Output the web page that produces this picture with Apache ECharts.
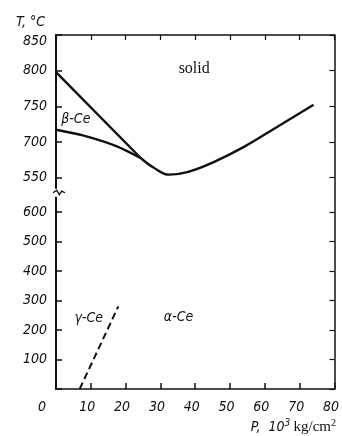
<!DOCTYPE html>
<html><head><meta charset="utf-8">
<script src="https://cdn.jsdelivr.net/npm/echarts@6/dist/echarts.min.js"></script>
<style>html,body{margin:0;padding:0;background:#fff}#c{width:342px;height:436px}</style>
</head><body><div id="c"></div>
<script>
// ---- data ----
const pressureTicks = [0, 10, 20, 30, 40, 50, 60, 70, 80];
const tempTicks = [0, 100, 200, 300, 400, 500, 600, 650, 700, 750, 800, 850];
const tempTickLabels = ['', '100', '200', '300', '400', '500', '600', '550', '700', '750', '800', '850'];
// [P (10^3 kg/cm^2), T (°C)]
const meltingCurve = [[24.4, 677], [28, 664], [32.5, 654], [38, 658], [45, 671], [54, 693], [63.5, 721], [74, 752]];
const betaMeltingLine = [[0, 798], [24.4, 677]];
const betaAlphaCurve = [[0, 717], [7.7, 709], [17.3, 694], [24.4, 677]];
const gammaAlphaLine = [[6.8, 0], [17.9, 280]];
const regionLabels = ['solid', 'β-Ce', 'γ-Ce', 'α-Ce'];
const regionLabelPos = [[39.7, 802], [5.7, 732], [9.4, 241], [35.2, 244]];

// broken temperature axis: two linear segments
function tv(T) { return T <= 600 ? T * 0.295 : 211.5 + (T - 650) * 0.7125; }
const tickV = tempTicks.map(tv);
const labelFor = {};
tickV.forEach((v, i) => { labelFor[v.toFixed(3)] = tempTickLabels[i]; });
const conv = arr => arr.map(p => [p[0], tv(p[1])]);

const chart = echarts.init(document.getElementById('c'), null, {renderer: 'canvas'});
const ink = '#111';
const tickFont = {fontFamily: 'DejaVu Sans Condensed', fontStyle: 'italic', fontSize: 14, color: ink};
const lineS = (data, smooth, extra) => Object.assign({
  type: 'line', data: conv(data), showSymbol: false, smooth: smooth, silent: true,
  lineStyle: {color: ink, width: 2.4}, z: 3
}, extra || {});

chart.setOption({
  animation: false,
  backgroundColor: '#fff',
  grid: {left: 56, right: 4, top: 35, bottom: 47},
  xAxis: [{
    type: 'value', position: 'bottom', min: 0, max: 80, interval: 10,
    axisLine: {onZero: false, lineStyle: {color: ink, width: 1.5}},
    axisTick: {inside: true, length: 6, lineStyle: {color: ink, width: 1.5}},
    splitLine: {show: false},
    axisLabel: Object.assign({}, tickFont, {
      margin: 11,
      formatter: v => v === 0 ? '{z|0}' : '{n|' + v + '}',
      rich: {z: Object.assign({}, tickFont, {padding: [0, 28, 0, 0]}), n: Object.assign({}, tickFont, {padding: [0, 7, 0, 0]})}
    })
  }, {
    type: 'value', position: 'top', min: 0, max: 80, interval: 10,
    axisLine: {onZero: false, lineStyle: {color: ink, width: 1.5}},
    axisTick: {inside: true, length: 5, lineStyle: {color: ink, width: 1.2}},
    axisLabel: {show: false}, splitLine: {show: false}
  }],
  yAxis: [{
    type: 'value', position: 'left', min: 0, max: tv(850),
    axisLine: {onZero: false, lineStyle: {color: ink, width: 2}},
    axisTick: {inside: true, length: 6, customValues: tickV, lineStyle: {color: ink, width: 1.5}},
    splitLine: {show: false},
    axisLabel: Object.assign({}, tickFont, {
      margin: 9, customValues: tickV,
      formatter: v => { const s = labelFor[v.toFixed(3)] || ''; return s === '850' ? '{t|850}' : s; },
      rich: {t: Object.assign({}, tickFont, {padding: [12, 0, 0, 0]})}
    })
  }, {
    type: 'value', position: 'right', min: 0, max: tv(850),
    axisLine: {onZero: false, lineStyle: {color: ink, width: 1.5}},
    axisTick: {inside: true, length: 5, customValues: tickV, lineStyle: {color: ink, width: 1.2}},
    axisLabel: {show: false}, splitLine: {show: false}
  }],
  series: [
    lineS(meltingCurve, 0.4),
    lineS(betaMeltingLine, false),
    lineS(betaAlphaCurve, 0.3),
    lineS(gammaAlphaLine, false, {lineStyle: {color: ink, width: 2, type: [7, 4]}})
  ]
});

// annotations and axis break, positioned through the chart's own scales
const graphics = [];
const fonts = [
  {fontFamily: 'Liberation Serif', fontSize: 16, fontWeight: 'normal', fontStyle: 'normal'},
  {fontFamily: 'DejaVu Sans Condensed', fontSize: 14, fontStyle: 'italic'},
  {fontFamily: 'DejaVu Sans Condensed', fontSize: 14, fontStyle: 'italic'},
  {fontFamily: 'DejaVu Sans Condensed', fontSize: 14, fontStyle: 'italic'}
];
regionLabels.forEach((t, i) => {
  const p = chart.convertToPixel({xAxisIndex: 0, yAxisIndex: 0}, [regionLabelPos[i][0], tv(regionLabelPos[i][1])]);
  graphics.push({type: 'text', x: p[0], y: p[1], z: 10,
    style: Object.assign({text: t, fill: ink, align: 'center', verticalAlign: 'middle'}, fonts[i])});
});
const bx = chart.convertToPixel({xAxisIndex: 0}, 0);
const by = chart.convertToPixel({yAxisIndex: 0}, (tv(600) + tv(650)) / 2) - 2;
graphics.push({type: 'rect', shape: {x: bx - 2, y: by - 4, width: 4, height: 8}, style: {fill: '#fff'}, z: 20});
graphics.push({type: 'polyline', z: 21, shape: {points: [[bx - 3, by], [bx + 0.7, by - 2.5], [bx + 3.3, by + 2], [bx + 5.7, by - 1.7], [bx + 9, by]]},
  style: {stroke: ink, lineWidth: 1.4, fill: null}});
graphics.push({type: 'text', left: 16, top: 15, z: 10,
  style: {text: 'T, °C', fill: ink, fontFamily: 'DejaVu Sans Condensed', fontStyle: 'italic', fontSize: 14}});
graphics.push({type: 'text', right: 6, top: 418, z: 10,
  style: {
    text: '{i|P,  10}{s|3} {r|kg/cm}{s2|2}', fill: ink,
    rich: {
      i: {fontFamily: 'DejaVu Sans Condensed', fontStyle: 'italic', fontSize: 14, fill: ink},
      s: {fontFamily: 'DejaVu Sans Condensed', fontStyle: 'italic', fontSize: 10, padding: [0, 0, 8, 0], fill: ink},
      r: {fontFamily: 'Liberation Serif', fontSize: 15, fill: ink},
      s2: {fontFamily: 'Liberation Serif', fontSize: 10, padding: [0, 0, 8, 0], fill: ink}
    }
  }});
chart.setOption({graphic: graphics});
</script>
</body></html>
